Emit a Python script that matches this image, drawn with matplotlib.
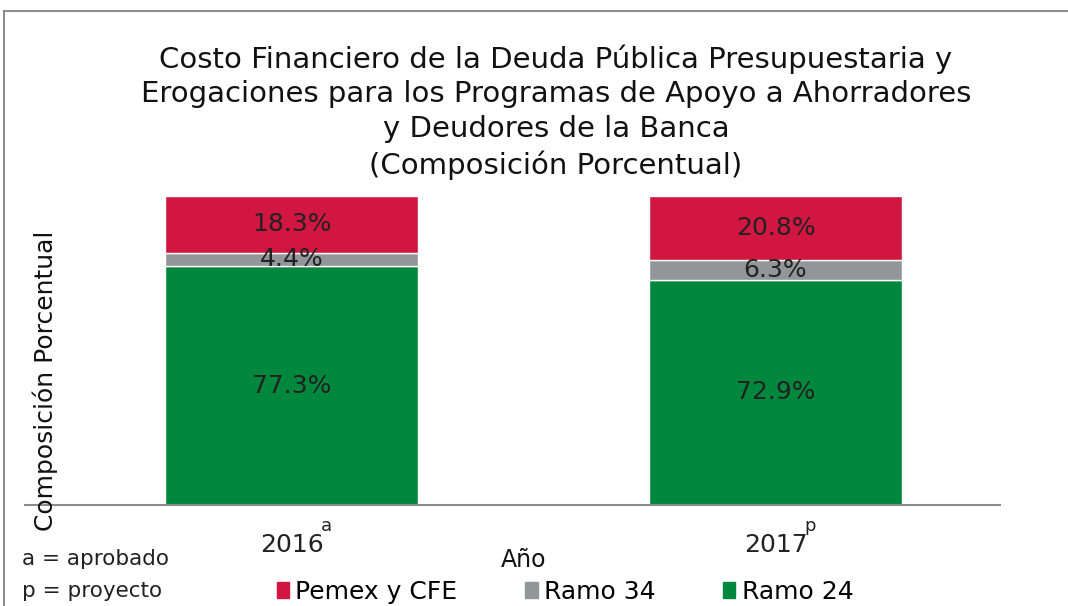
import numpy as np
import matplotlib.pyplot as plt
from matplotlib.lines import Line2D
from matplotlib.patches import Rectangle

years = ["2016", "2017"]
year_marks = ["a", "p"]
ramo24 = [77.3, 72.9]
ramo34 = [4.4, 6.3]
pemex = [18.3, 20.8]

series = [
    ("Ramo 24", ramo24, "#00873E"),
    ("Ramo 34", ramo34, "#939598"),
    ("Pemex y CFE", pemex, "#D01641"),
]

plt.rcParams["font.family"] = "DejaVu Sans"

fig = plt.figure(figsize=(10.68, 6.06), dpi=100)
ax = fig.add_axes([25 / 1068, 1 - 505 / 606, 975 / 1068, 309 / 606])

x = np.arange(len(years))
bottom = np.zeros(len(years))
for name, vals, col in series:
    vals = np.array(vals)
    ax.bar(x, vals, width=0.523, bottom=bottom, color=col,
           edgecolor="white", linewidth=1, label=name)
    for xi, b, v in zip(x, bottom, vals):
        ax.text(xi, b + v / 2, f"{v:.1f}%", ha="center", va="center",
                fontsize=18, color="#222222")
    bottom += vals

ax.set_xlim(-0.551, 1.464)
ax.set_ylim(0, 100)
ax.set_yticks([])
ax.set_xticks(x)
ax.set_xticklabels(years, fontsize=18, color="#222222")
ax.tick_params(axis="x", length=0, pad=20)
# superscript marks next to the year labels
for xi, m in zip(x, year_marks):
    ax.annotate(m, xy=(xi, 0), xytext=(25, -15), textcoords="offset points",
                fontsize=13, color="#222222", ha="center", va="center")
for s in ["top", "right", "left"]:
    ax.spines[s].set_visible(False)
ax.spines["bottom"].set_color("#8c8c8c")
ax.spines["bottom"].set_linewidth(1.5)

fig.text(556 / 1068, 1 - 112 / 606,
         "Costo Financiero de la Deuda Pública Presupuestaria y\n"
         "Erogaciones para los Programas de Apoyo a Ahorradores\n"
         "y Deudores de la Banca\n(Composición Porcentual)",
         ha="center", va="center", fontsize=21, linespacing=1.3, color="#111111")

fig.text(45 / 1068, 1 - 381 / 606, "Composición Porcentual", rotation=90,
         ha="center", va="center", fontsize=18, color="#111111")
fig.text(524 / 1068, 1 - 560 / 606, "Año", ha="center", va="center",
         fontsize=17, color="#111111")
fig.text(22 / 1068, 1 - 559 / 606, "a = aprobado", ha="left", va="center",
         fontsize=15.5, color="#222222")
fig.text(22 / 1068, 1 - 591 / 606, "p = proyecto", ha="left", va="center",
         fontsize=15.5, color="#222222")

handles = [Rectangle((0, 0), 1, 1, color=c) for _, _, c in series[::-1]]
labels = [n for n, _, _ in series[::-1]]
fig.legend(handles, labels, loc="center", bbox_to_anchor=(565 / 1068, 1 - 592 / 606),
           ncol=3, frameon=False, fontsize=18, handlelength=0.5, handleheight=0.6,
           handletextpad=0.25, columnspacing=2.7, borderpad=0)

# figure frame (top and left edges)
fig.add_artist(Line2D([4 / 1068, 4 / 1068], [0, 1 - 11 / 606], color="#8c8c8c",
                      lw=1.5, transform=fig.transFigure))
fig.add_artist(Line2D([4 / 1068, 1], [1 - 11 / 606, 1 - 11 / 606], color="#8c8c8c",
                      lw=1.5, transform=fig.transFigure))

fig.savefig("out.png", dpi=100, facecolor="white")
